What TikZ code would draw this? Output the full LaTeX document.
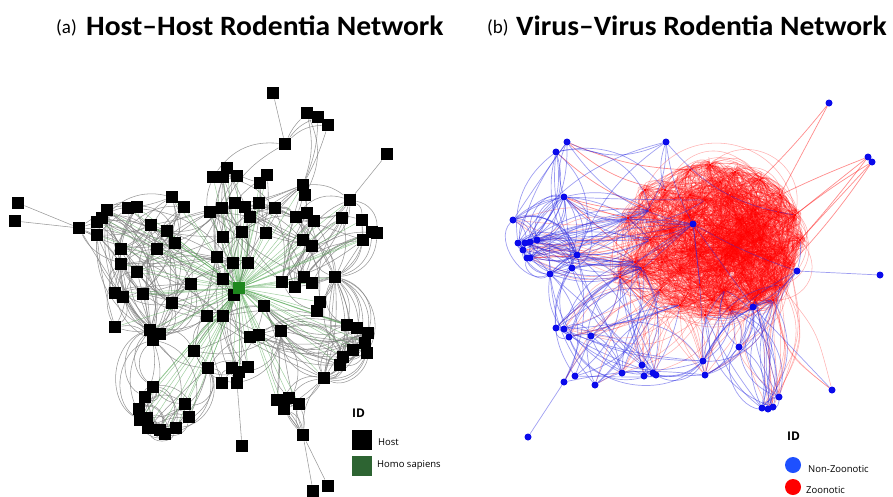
\documentclass[tikz,border=0pt]{standalone}
\usepackage{fontspec}
\setmainfont{Carlito}
\newfontfamily\titlefont[FakeStretch=1.055]{Carlito}
\newfontfamily\legendfont{Open Sans}
\usetikzlibrary{backgrounds}

\definecolor{hsgreen}{RGB}{30,135,30}
\definecolor{leggreen}{RGB}{45,100,50}
\definecolor{edgegreen}{RGB}{80,165,80}
\definecolor{nodeblue}{RGB}{10,10,235}
\definecolor{legblue}{RGB}{30,80,255}
\definecolor{edgeblue}{RGB}{40,40,225}
\definecolor{zred}{RGB}{255,0,0}

% random bent links between two numbered groups of nodes
\newcommand\netlinks[6]{%
  \pgfmathtruncatemacro\nla{dim({#4})-1}%
  \pgfmathtruncatemacro\nlb{dim({#5})-1}%
  \foreach \k in {1,...,#3}{%
    \pgfmathtruncatemacro\na{{#4}[random(0,\nla)]}%
    \pgfmathtruncatemacro\nb{{#5}[random(0,\nlb)]}%
    \pgfmathtruncatemacro\bb{random(0,2*#6)-#6}%
    \ifnum\na=\nb\relax\else\draw[#2] (#1\na) to[bend left=\bb] (#1\nb);\fi
  }}
% random curly links (free leaving and entering angles)
\newcommand\curlylinks[5]{%
  \pgfmathtruncatemacro\nla{dim({#4})-1}%
  \pgfmathtruncatemacro\nlb{dim({#5})-1}%
  \foreach \k in {1,...,#3}{%
    \pgfmathtruncatemacro\na{{#4}[random(0,\nla)]}%
    \pgfmathtruncatemacro\nb{{#5}[random(0,\nlb)]}%
    \pgfmathtruncatemacro\oa{random(0,359)}%
    \pgfmathtruncatemacro\ob{random(0,359)}%
    \ifnum\na=\nb\relax\else\draw[#2] (#1\na) to[out=\oa,in=\ob] (#1\nb);\fi
  }}

\begin{document}
\begin{tikzpicture}[x=1pt,y=-1pt,
  host/.style={rectangle,fill=black,minimum size=12.5pt,inner sep=0pt},
  human/.style={rectangle,fill=hsgreen,minimum size=12.5pt,inner sep=0pt},
  nzv/.style={circle,fill=nodeblue,minimum size=7pt,inner sep=0pt},
  zv/.style={circle,fill=zred,minimum size=3pt,inner sep=0pt},
  hedge/.style={draw=black!50,line width=0.55pt,opacity=0.8},
  gedge/.style={draw=edgegreen,line width=0.5pt,opacity=0.55},
  bedge/.style={draw=edgeblue,line width=0.7pt,opacity=0.45},
  redge/.style={draw=zred,line width=0.55pt,opacity=0.3,looseness=1.35},
  cedge/.style={draw=zred,line width=0.55pt,opacity=0.3,looseness=0.7},
  rline/.style={draw=zred,line width=0.7pt,opacity=0.45},
  legsq/.style={rectangle,minimum size=20pt,inner sep=0pt},
  legdot/.style={circle,minimum size=16pt,inner sep=0pt},
  legtxt/.style={font=\legendfont\fontsize{9.5}{10}\selectfont,inner sep=0pt,anchor=base west},
  legid/.style={font=\legendfont\bfseries\fontsize{12}{12}\selectfont,inner sep=0pt,anchor=base west},
  tag/.style={font=\fontsize{19}{19}\selectfont,inner sep=0pt,anchor=base west},
  title/.style={font=\titlefont\bfseries\fontsize{28}{28}\selectfont,inner sep=0pt,anchor=base west}]
\pgfmathsetseed{12}
\useasboundingbox (0,0) rectangle (893,496);

% ---------- titles ----------
\node[tag] (ta) at (56,33) {(a)};
\node[title] (tha) at (86,35) {Host–Host Rodentia Network};
\node[tag] (tb) at (487,33) {(b)};
\node[title] (thb) at (516,35) {Virus–Virus Rodentia Network};

% ---------- (a) host network ----------
\foreach \n/\x/\y in {1/273/93, 2/307/113, 3/318/117, 4/328/125, 5/285/144, 6/387/154,
  7/303/185, 8/305/195, 9/350/200, 10/18/203, 11/15/221, 12/79/228, 13/107/210,
  14/102/218, 15/97/222, 16/97/235, 17/128/208, 18/137/207, 19/151/225, 20/172/197,
  21/184/207, 22/167/231, 23/175/243, 24/157/249, 25/121/249, 26/121/264, 27/137/272,
  28/115/293, 29/123/297, 30/143/294, 31/172/303, 32/191/284, 33/115/327, 34/150/330,
  35/160/334, 36/153/340, 37/194/351, 38/213/177, 39/227/168, 40/237/176, 41/223/177,
  42/260/183, 43/267/175, 44/210/212, 45/222/208, 46/235/203, 47/245/207, 48/250/217,
  49/259/203, 50/275/208, 51/223/237, 52/242/232, 53/266/233, 54/217/257, 55/233/263,
  56/248/263, 57/223/279, 58/234/295, 59/207/316, 60/223/316, 61/264/306, 62/282/282,
  63/295/287, 64/304/277, 65/312/283, 66/335/277, 67/320/302, 68/317/311, 69/296/217,
  70/307/213, 71/314/221, 72/342/218, 73/362/220, 74/372/232, 75/363/240, 76/377/233,
  77/303/240, 78/312/246, 79/347/325, 80/357/328, 81/368/333, 82/365/343, 83/353/350,
  84/343/357, 85/340/365, 86/367/353, 87/324/378, 88/281/331, 89/250/337, 90/259/335,
  91/208/368, 92/232/368, 93/239/372, 94/248/367, 95/222/383, 96/237/383, 97/242/446,
  98/277/400, 99/289/398, 100/299/404, 101/284/409, 102/303/435, 103/313/491, 104/328/486,
  105/153/387, 106/145/397, 107/139/409, 108/147/418, 109/148/428, 110/160/430,
  111/165/434, 112/176/428, 113/189/417, 114/185/404, 115/140/420}
  \node[host] (h\n) at (\x,\y) {};
\node[human] (hs) at (239,288) {};

\begin{scope}[on background layer]
  % single links to outlying hosts
  \foreach \a/\b/\c in {10/12/0, 11/12/0, 12/15/0, 12/16/-10, 1/5/0, 5/2/10, 5/3/15, 5/4/20,
    7/2/-15, 7/3/-10, 7/4/-5, 8/2/-25, 6/9/0, 9/7/-20, 9/73/30, 9/76/40, 97/96/0,
    102/101/0, 102/103/0, 102/104/0, 102/87/20, 102/98/-10, 5/38/-30, 5/45/-15}
    \draw[hedge] (h\a) to[bend left=\c] (h\b);
  % hubs
  \foreach \b/\c in {45/5, 49/0, 50/-5, 53/-10, 52/5, 62/-5, 48/0, 69/10, 70/5, 66/-10}
    \draw[hedge] (h7) to[bend left=\c] (h\b);
  \foreach \b/\c in {79/25, 80/35, 81/45, 82/40, 83/30, 84/20, 85/15, 86/50, 87/10,
    72/-20, 73/-30, 74/-35, 75/-25, 76/-40, 62/10, 63/5, 64/0, 65/-5, 69/-10, 70/-15}
    \draw[hedge] (h66) to[bend left=\c] (h\b);
  \foreach \b/\c in {88/-10, 79/-20, 80/-30, 81/-35, 98/15, 87/-15}
    \draw[hedge] (h61) to[bend left=\c] (h\b);
  % clusters
  \netlinks{h}{hedge}{90}{12,13,14,15,16,17,18,19,20,21,22,23,24,25,26,27,28,29,30,31,32,33,34,35,36}{12,13,14,15,16,17,18,19,20,21,22,23,24,25,26,27,28,29,30,31,32,33,34,35,36}{60}
  \netlinks{h}{hedge}{45}{38,39,40,41,42,43,44,45,46,47,48,49,50,51,52,53,54,55,56,57,58}{38,39,40,41,42,43,44,45,46,47,48,49,50,51,52,53,54,55,56,57,58}{30}
  \netlinks{h}{hedge}{35}{13,17,19,21,22,24,26,27,30,31,32,34}{44,45,51,54,55,57,58,59,60}{25}
  \netlinks{h}{hedge}{40}{9,62,63,64,65,66,67,68,69,70,71,72,73,74,75,76,77,78}{9,62,63,64,65,66,67,68,69,70,71,72,73,74,75,76,77,78}{40}
  \netlinks{h}{hedge}{50}{66,79,80,81,82,83,84,85,86,87,88}{66,79,80,81,82,83,84,85,86,87,88}{70}
  \netlinks{h}{hedge}{35}{37,54,57,58,59,60,61,88,89,90,91,92,93,94,95,96}{37,54,57,58,59,60,61,88,89,90,91,92,93,94,95,96}{40}
  \netlinks{h}{hedge}{20}{87,88,94,98,99,100,101,102}{87,88,94,98,99,100,101,102}{50}
  \netlinks{h}{hedge}{55}{105,106,107,108,109,110,111,112,113,114,115,37,91,34,36}{105,106,107,108,109,110,111,112,113,114,115,37,91,34,36}{80}
  \netlinks{h}{hedge}{15}{59,60,61,88,89,90}{79,80,81,84,85,87}{40}
  \netlinks{h}{hedge}{20}{44,45,46,47,48,49,50,52,53}{62,63,64,69,70,71,77,78}{30}
  % links to Homo sapiens
  \foreach \b in {7,9,13,14,15,16,17,18,19,20,21,22,23,24,25,26,27,28,29,30,31,32,33,34,35,
    36,37,38,39,40,41,42,43,44,45,46,47,48,49,50,51,52,53,54,55,56,57,59,60,61,62,63,
    64,65,66,67,68,69,70,71,72,73,74,75,76,77,78,79,80,81,82,83,84,85,86,87,88,89,90,
    91,92,93,94,98,99,100,101,105,106,107,108,109,110,111,112,113,114,115}
    \draw[gedge] (hs) -- (h\b);
\end{scope}

% legend (a)
\node[legid] (ida) at (352,417) {ID};
\node[legsq,fill=black] (lha) at (362,440) {};
\node[legtxt] (lhat) at (378,445) {Host};
\node[legsq,fill=leggreen] (lhs) at (362,466) {};
\node[legtxt] (lhst) at (377,467) {Homo sapiens};

% ---------- (b) virus network ----------
\foreach \n/\x/\y in {51/628/218, 52/635/262, 53/643/268, 54/620/277, 55/773/300,
  56/650/210, 57/665/190, 58/690/170, 59/710/165, 60/735/172, 61/760/180, 62/780/195,
  63/795/215, 64/800/240, 65/790/265, 66/780/285, 67/755/300, 68/730/310, 69/705/315,
  70/680/305, 71/660/290, 72/650/240, 73/670/230, 74/690/250, 75/715/235, 76/740/220,
  77/760/240, 78/745/260, 79/720/270, 80/700/285, 81/680/270, 82/705/200, 83/730/195,
  84/755/210, 85/770/260, 86/725/290, 87/690/215, 88/765/225, 89/700/255, 90/735/245,
  91/645/190, 92/720/182, 93/778/212, 94/782/250, 95/760/293, 96/712/300, 97/662/262,
  98/748/232, 99/725/255, 100/690/195}
  \node[zv] (v\n) at (\x,\y) {};
\foreach \n/\x/\y in {1/829/103, 2/868/157, 3/872/162, 4/567/142, 5/556/152, 6/666/142,
  7/564/197, 8/513/220, 9/518/243, 10/525/243, 11/530/242, 12/537/240, 13/523/250,
  14/527/258, 15/530/258, 16/577/255, 17/572/268, 18/550/274, 19/693/224, 20/797/271,
  21/880/275, 22/753/307, 23/556/328, 24/564/329, 25/569/337, 26/591/336, 27/739/347,
  28/703/361, 29/642/365, 30/622/373, 31/644/376, 32/653/373, 33/656/375, 34/705/375,
  35/575/376, 36/564/382, 37/595/385, 38/779/397, 39/762/408, 40/768/409, 41/773/407,
  42/832/390, 43/528/437}
  \node[nzv] (v\n) at (\x,\y) {};

\begin{scope}[on background layer]
  % zoonotic core
  \curlylinks{v}{cedge}{900}{51,52,53,54,55,56,57,58,59,60,61,62,63,64,65,66,67,68,69,70,71,72,73,74,75,76,77,78,79,80,81,82,83,84,85,86,87,88,89,90,91,92,93,94,95,96,97,98,99,100}{51,52,53,54,55,56,57,58,59,60,61,62,63,64,65,66,67,68,69,70,71,72,73,74,75,76,77,78,79,80,81,82,83,84,85,86,87,88,89,90,91,92,93,94,95,96,97,98,99,100}
  \netlinks{v}{redge}{500}{51,52,53,54,55,56,57,58,59,60,61,62,63,64,65,66,67,68,69,70,71,72,73,74,75,76,77,78,79,80,81,82,83,84,85,86,87,88,89,90,91,92,93,94,95,96,97,98,99,100}{51,52,53,54,55,56,57,58,59,60,61,62,63,64,65,66,67,68,69,70,71,72,73,74,75,76,77,78,79,80,81,82,83,84,85,86,87,88,89,90,91,92,93,94,95,96,97,98,99,100}{80}
  \curlylinks{v}{cedge}{300}{55,59,60,61,62,63,64,65,66,67,68,75,76,77,78,83,84,85,86,88,90,93,94,95,98,99}{55,59,60,61,62,63,64,65,66,67,68,75,76,77,78,83,84,85,86,88,90,93,94,95,98,99}
  % zoonotic links reaching outward
  \foreach \a/\b/\c in {1/62/0, 1/61/3, 2/63/0, 2/64/2, 2/62/-2, 3/64/0, 3/65/4, 3/63/-3,
    4/57/-15, 4/58/-10, 5/56/-10, 7/51/-5, 7/56/-8}
    \draw[rline] (v\a) to[bend left=\c] (v\b);
  \netlinks{v}{redge}{30}{51,52,53,54,56,72,73}{7,8,9,10,11,12,13,14,15,16,17,18}{20}
  \netlinks{v}{redge}{40}{53,54,69,70,71,80,81,86}{23,24,25,26,28,29,30,31,32,33,34,35,36,37}{35}
  \netlinks{v}{redge}{30}{55,65,66,67,68,85}{22,27,38,39,40,41,42,34,28}{40}
  % non-zoonotic links
  \netlinks{v}{bedge}{60}{7,8,9,10,11,12,13,14,15,16,17,18}{7,8,9,10,11,12,13,14,15,16,17,18}{80}
  \netlinks{v}{bedge}{35}{7,8,9,10,11,12,13,14,15,16,17,18}{51,52,53,54,56,72,19}{25}
  \netlinks{v}{bedge}{22}{4,5,6,7}{8,9,11,12,16,51,56,57,19,82}{45}
  \netlinks{v}{bedge}{28}{23,24,25,26,28,29,30,31,32,33,34,35,36,37}{23,24,25,26,28,29,30,31,32,33,34,35,36,37}{60}
  \netlinks{v}{bedge}{40}{23,24,25,26,29,30,31,32,33,35,36,37}{52,53,54,71,70,17,18,16}{40}
  \netlinks{v}{bedge}{35}{22,27,38,39,40,41,28,34}{55,66,67,68,69,86,22,20}{45}
  \netlinks{v}{bedge}{12}{38,39,40,41}{38,39,40,41,27}{80}
  \foreach \b/\c in {22/0, 20/-5, 52/5, 53/0, 54/-5, 51/5, 80/0, 28/3}
    \draw[bedge] (v19) to[bend left=\c] (v\b);
  \foreach \a/\b/\c in {43/36/0, 21/20/0, 42/22/0, 20/22/10, 20/64/-10, 4/6/-25,
    5/9/40, 4/7/-20, 6/19/-10, 6/63/-20, 8/7/15, 22/38/-15, 22/27/10, 27/34/10}
    \draw[bedge] (v\a) to[bend left=\c] (v\b);
\end{scope}

% legend (b)
\node[legid] (idb) at (787,440) {ID};
\node[legdot,fill=legblue] (lnz) at (793,465) {};
\node[legtxt] (lnzt) at (808,472) {Non-Zoonotic};
\node[legdot,fill=zred] (lz) at (793,487) {};
\node[legtxt] (lzt) at (806,493) {Zoonotic};
\end{tikzpicture}
\end{document}
